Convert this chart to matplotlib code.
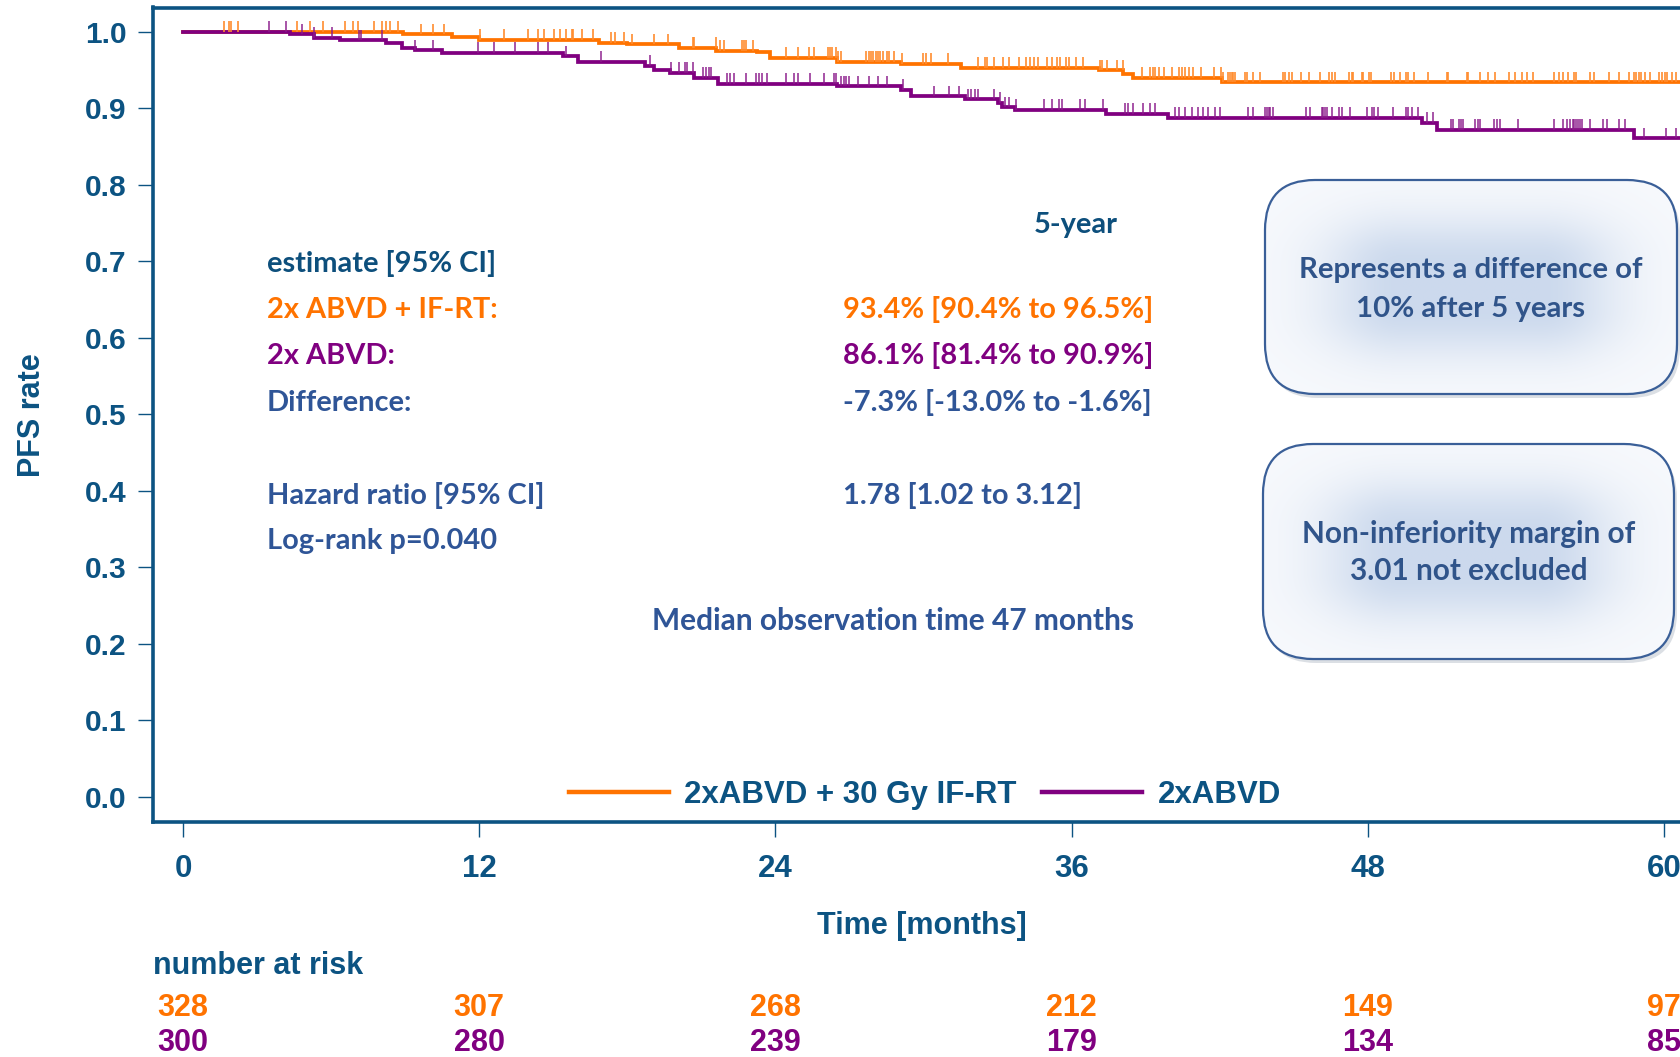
import numpy as np
import matplotlib
matplotlib.use("Agg")
import matplotlib.pyplot as plt
from matplotlib.patches import FancyBboxPatch
from matplotlib.lines import Line2D
import matplotlib.transforms as mtrans

# ---------------- data ----------------
orange_event_t = [8.9, 10.9, 12.0, 16.85, 18.0, 20.1, 21.6, 23.25, 23.8, 26.5, 29.1, 31.5,
                  37.1, 38.1, 38.5, 42.1]
orange_surv = [0.997, 0.994, 0.9895, 0.986, 0.984, 0.979, 0.9756, 0.9735, 0.9664, 0.961,
               0.958, 0.953, 0.950, 0.945, 0.940, 0.934]

purple_event_t = [4.34, 5.30, 6.36, 8.24, 8.89, 9.40, 10.49, 15.4, 16.0, 18.7, 19.1, 19.75,
                  20.7, 21.66, 26.5, 29.1, 29.5, 31.7, 33.0, 33.2, 33.7, 37.4, 39.9, 50.2,
                  50.8, 58.8]
purple_surv = [0.997, 0.992, 0.989, 0.985, 0.979, 0.976, 0.973, 0.968, 0.961, 0.956, 0.950,
               0.947, 0.940, 0.932, 0.929, 0.924, 0.916, 0.912, 0.907, 0.9016, 0.898, 0.893,
               0.888, 0.881, 0.872, 0.861]

orange_censor = [1.66, 1.88, 1.95, 2.21, 4.62, 5.13, 5.68, 6.55, 6.87, 7.09, 7.73, 8.07, 8.21,
                 8.39, 8.71, 9.65, 10.12, 10.59, 12.03, 12.99, 13.99, 14.39, 14.64, 15.04,
                 15.26, 15.5, 15.74, 15.81, 16.16, 16.61, 17.33, 17.50, 17.87, 18.2, 19.07,
                 19.65, 20.66,
                 20.72, 21.59, 21.77, 21.92, 22.64, 22.71, 22.79, 23.10, 24.45, 24.91, 25.38,
                 25.56, 26.14, 26.22, 26.29, 26.47, 26.55, 26.65, 27.69, 27.81, 27.88, 27.95,
                 28.07, 28.14, 28.24, 28.36, 28.53, 28.60, 28.79, 29.11, 29.98, 30.12, 30.31,
                 30.99, 32.19, 32.51, 32.58, 32.85, 33.23, 33.45, 33.86, 34.17, 34.32, 34.46,
                 34.65, 35.01, 35.19, 35.40, 35.52, 35.77, 35.91, 36.17, 36.46, 37.14, 37.25,
                 37.43, 37.83, 38.08, 38.85, 39.16, 39.31, 39.38, 39.53, 39.74, 40.08, 40.37,
                 40.47, 40.59, 40.76, 40.90, 41.23, 41.77,
                 42.06, 42.13, 42.35, 42.42, 42.49, 42.56, 42.63, 43.03, 43.10, 43.33, 43.64,
                 44.58, 44.65, 44.79, 44.92, 45.30, 45.60, 46.07, 46.41, 46.54, 46.68, 47.22,
                 47.35, 47.42, 47.76, 47.82, 48.06, 48.12, 48.93, 49.08, 49.31, 49.55, 49.62,
                 49.88, 50.43, 51.20, 51.27, 52.01, 52.08, 52.55, 52.89, 53.16, 53.74, 53.97,
                 54.24, 54.44, 54.69, 55.56, 55.73, 55.93, 56.13, 56.36, 56.43, 57.01, 57.15,
                 57.79, 58.18, 58.60, 58.77, 58.87, 58.97, 59.06, 59.24, 59.44, 59.78, 59.91,
                 60.05, 60.14, 60.32, 60.49]

purple_censor = [3.47, 4.16, 4.81, 5.30, 6.03, 7.11, 7.20, 8.07, 9.40, 10.12, 11.95, 12.58,
                 13.45, 14.39, 14.80, 15.50, 16.92, 18.92, 19.76, 20.11, 20.33, 20.40, 20.66,
                 21.08, 21.18, 21.30, 21.41, 22.02, 22.16, 22.31, 22.81, 23.22, 23.32, 23.46,
                 23.65, 24.45, 24.74, 24.91, 25.42, 25.97, 26.36, 26.46, 26.65, 26.77, 26.87,
                 26.97, 27.35, 27.81, 28.17, 28.53, 29.18, 30.41, 31.02, 31.42, 31.79, 31.93,
                 32.08, 32.22, 32.87, 33.12, 33.31, 33.45, 33.74, 34.87, 35.19, 35.48, 35.62,
                 36.34, 36.56, 37.29, 38.15, 38.30, 38.49, 38.88, 39.16, 39.36, 40.18, 40.37,
                 40.59, 40.88, 41.13, 41.34, 41.53, 41.80, 42.02,
                 43.13, 43.37, 43.84, 43.91, 43.98, 44.04, 44.18, 45.50, 45.66, 46.14, 46.20,
                 46.27, 46.34, 46.54, 46.85, 46.95, 47.26, 47.96, 48.16, 48.27, 48.43, 49.01,
                 49.55, 49.62, 49.78, 50.05, 50.39, 50.66, 51.36, 51.44, 51.71, 51.77, 51.84,
                 52.35, 52.48, 52.55, 53.12, 53.23, 53.34, 54.08, 55.56, 55.93, 56.06, 56.20,
                 56.31, 56.36, 56.43, 56.50, 56.58, 56.67, 57.01, 57.52, 57.68, 58.18, 58.43,
                 59.20, 60.09, 60.49]

follow_up_end = 61.0
risk_months = [0, 12, 24, 36, 48, 60]
risk_orange = [328, 307, 268, 212, 149, 97]
risk_purple = [300, 280, 239, 179, 134, 85]
y_ticks = [0.0, 0.1, 0.2, 0.3, 0.4, 0.5, 0.6, 0.7, 0.8, 0.9, 1.0]
legend_labels = ["2xABVD + 30 Gy IF-RT", "2xABVD"]

# ---------------- style ----------------
ORANGE = "#ff7300"
PURPLE = "#800080"
AXBLUE = "#0c5382"
DARKTEAL = "#0d4f7c"
TXTBLUE = "#2f5597"
BOXTXT = "#30548a"
SANS = ["Liberation Sans", "DejaVu Sans"]
CAL = ["Lato", "DejaVu Sans"]

W, H = 1680, 1057
fig = plt.figure(figsize=(W / 100, H / 100), dpi=100)
fig.patch.set_facecolor("white")

ax = fig.add_axes([153 / W, 1 - 822 / H, 1 - 153 / W, (822 - 7.5) / H])
ax.set_xlim(-1.216, 60.65)
ax.set_ylim(-0.0327, 1.032)


def km_steps(ev_t, ev_s):
    t = np.concatenate([[0.0], ev_t, [follow_up_end]])
    s = np.concatenate([[1.0], ev_s, [ev_s[-1]]])
    return t, s


def surv_at(times, ev_t, ev_s):
    idx = np.searchsorted(np.asarray(ev_t), np.asarray(times), side="right")
    vals = np.concatenate([[1.0], ev_s])
    return vals[idx]


ot, os_ = km_steps(orange_event_t, orange_surv)
pt, ps = km_steps(purple_event_t, purple_surv)

ax.step(ot, os_, where="post", color=ORANGE, lw=2.7, zorder=3, solid_joinstyle="miter")
ax.step(pt, ps, where="post", color=PURPLE, lw=2.7, zorder=4, solid_joinstyle="miter")

oc = np.array(orange_censor)
pc = np.array(purple_censor)
ax.vlines(oc, surv_at(oc, orange_event_t, orange_surv),
          surv_at(oc, orange_event_t, orange_surv) + 0.014,
          color="#ff8c2e", lw=1.4, alpha=0.85, zorder=5)
ax.vlines(pc, surv_at(pc, purple_event_t, purple_surv),
          surv_at(pc, purple_event_t, purple_surv) + 0.014,
          color="#8a1a8a", lw=1.4, alpha=0.75, zorder=5)

# spines & ticks
for side in ["left", "bottom", "top"]:
    ax.spines[side].set_color(AXBLUE)
    ax.spines[side].set_linewidth(2.6)
ax.spines["right"].set_visible(False)
ax.set_yticks(y_ticks)
ax.set_yticklabels([f"{v:.1f}" for v in y_ticks])
ax.set_xticks(risk_months)
ax.set_xticklabels([str(m) for m in risk_months])
ax.tick_params(axis="y", direction="out", length=11, width=1.0, color=AXBLUE,
               labelcolor=AXBLUE, pad=8, labelsize=21.5)
ax.tick_params(axis="x", direction="out", length=11, width=1.0, color=AXBLUE,
               labelcolor=AXBLUE, pad=12, labelsize=22.5)
for lab in ax.get_xticklabels() + ax.get_yticklabels():
    lab.set_fontfamily(SANS)
    lab.set_fontweight("bold")

leg_handles = [Line2D([], [], color=ORANGE, lw=3.2), Line2D([], [], color=PURPLE, lw=3.2)]
leg = ax.legend(leg_handles, legend_labels, loc="center", bbox_to_anchor=(0.5055, 0.033),
                ncol=2, frameon=False, handlelength=3.2, handletextpad=0.5,
                columnspacing=0.8, borderpad=0,
                prop={"family": SANS, "weight": "bold", "size": 22.5})
for t in leg.get_texts():
    t.set_color(AXBLUE)

# ---------------- overlay in pixel coordinates ----------------
ov = fig.add_axes([0, 0, 1, 1], zorder=10)
ov.axis("off")
ov.patch.set_alpha(0)

fig.text(32 / W, 1 - 415 / H, "PFS rate", rotation=90, ha="center", va="center",
         color=AXBLUE, fontsize=22, fontweight="bold", family=SANS)


def glow_box(x0, y0, x1, y1):
    w, h = x1 - x0, y1 - y0
    shadow = FancyBboxPatch((x0 + 3, y0 + 4), w, h,
                            boxstyle="round,pad=0,rounding_size=50",
                            fc="#9aa4b4", ec="none", alpha=0.35, zorder=1)
    ov.add_patch(shadow)
    patch = FancyBboxPatch((x0, y0), w, h, boxstyle="round,pad=0,rounding_size=50",
                           fc="#f6f8fc", ec="none", zorder=2)
    ov.add_patch(patch)
    u = np.linspace(0, 1, 300)[None, :]
    v = np.linspace(0, 1, 160)[:, None]
    dx = np.clip(np.abs(u - 0.5) - 0.17, 0, None) / 0.33
    dy = np.clip(np.abs(v - 0.5) - 0.10, 0, None) / 0.40
    d = np.sqrt(dx ** 2 + dy ** 2)
    s = np.exp(-3.0 * d ** 2)
    edge = np.array([0.968, 0.976, 0.99])
    cen = np.array([0.80, 0.853, 0.93])
    img = edge[None, None, :] * (1 - s[..., None]) + cen[None, None, :] * s[..., None]
    im = ov.imshow(img, extent=[x0, x1, y1, y0], origin="upper", aspect="auto",
                   zorder=2.5, interpolation="bilinear")
    im.set_clip_path(patch)
    border = FancyBboxPatch((x0, y0), w, h, boxstyle="round,pad=0,rounding_size=50",
                            fc="none", ec="#3a5f98", lw=1.6, zorder=3)
    ov.add_patch(border)


glow_box(1265, 180, 1677, 394)
glow_box(1263, 444, 1674, 659)
ov.set_xlim(0, W)
ov.set_ylim(H, 0)

ov.text(922, 934, "Time [months]", ha="center", va="baseline", color=AXBLUE,
        fontsize=22, fontweight="bold", family=SANS)
ov.text(153, 974, "number at risk", ha="left", va="baseline", color=AXBLUE,
        fontsize=22, fontweight="bold", family=SANS)

blend = mtrans.blended_transform_factory(ax.transData, ov.transData)
for m, a, b in zip(risk_months, risk_orange, risk_purple):
    ov.text(m, 1016, str(a), transform=blend, ha="center", va="baseline", color=ORANGE,
            fontsize=22, fontweight="bold", family=SANS, clip_on=False)
    ov.text(m, 1051, str(b), transform=blend, ha="center", va="baseline", color=PURPLE,
            fontsize=22, fontweight="bold", family=SANS, clip_on=False)

renderer = fig.canvas.get_renderer()


def fit_group(items, base=20.0):
    objs = []
    ratios = []
    for (x, y, s, c, ha, target) in items:
        t = ov.text(x, y, s, color=c, ha=ha, va="baseline", fontsize=base,
                    fontweight="bold", family=CAL, zorder=6)
        objs.append(t)
        if target:
            ratios.append(target / t.get_window_extent(renderer).width)
    r = float(np.median(ratios))
    for t in objs:
        t.set_fontsize(base * r)
    return objs


fit_group([
    (1076, 233, "5-year", DARKTEAL, "center", 82),
    (267, 272, "estimate [95% CI]", DARKTEAL, "left", 230),
    (267, 318, "2x ABVD + IF-RT:", ORANGE, "left", None),
    (267, 364, "2x ABVD:", PURPLE, "left", None),
    (267, 411, "Difference:", TXTBLUE, "left", None),
    (267, 504, "Hazard ratio [95% CI]", TXTBLUE, "left", 277),
    (267, 549, "Log-rank p=0.040", TXTBLUE, "left", 228),
    (843, 318, "93.4% [90.4% to 96.5%]", ORANGE, "left", 310),
    (843, 364, "86.1% [81.4% to 90.9%]", PURPLE, "left", None),
    (843, 411, "-7.3% [-13.0% to -1.6%]", TXTBLUE, "left", None),
    (843, 504, "1.78 [1.02 to 3.12]", TXTBLUE, "left", None),
])
fit_group([(893, 630, "Median observation time 47 months", TXTBLUE, "center", 482)])

fit_group([
    (1471, 278, "Represents a difference of", BOXTXT, "center", 345),
    (1471, 317, "10% after 5 years", BOXTXT, "center", None),
])
fit_group([
    (1469, 543, "Non-inferiority margin of", BOXTXT, "center", 333),
    (1469, 580, "3.01 not excluded", BOXTXT, "center", None),
])

fig.savefig("out.png", dpi=100, facecolor="white")
